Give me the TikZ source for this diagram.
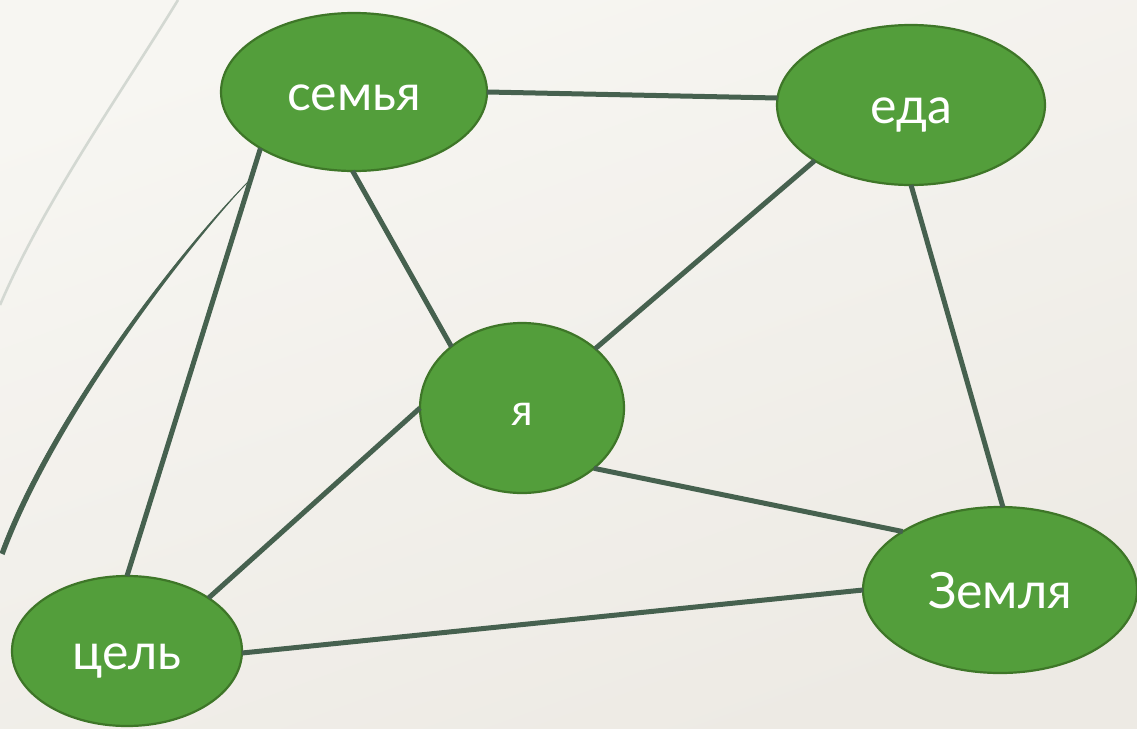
\documentclass[tikz,border=0pt]{standalone}
\usepackage{fontspec}
\setmainfont{Lato}
\usetikzlibrary{shapes.geometric,calc}
\definecolor{bgA}{HTML}{F7F6F2}
\definecolor{bgB}{HTML}{EDEAE4}
\definecolor{nodefill}{HTML}{539E3B}
\definecolor{nodeline}{HTML}{3E7628}
\definecolor{edgecol}{HTML}{46614F}
\definecolor{arccol}{HTML}{D3D8D2}
\tikzset{
  bubble/.style={ellipse, draw=nodeline, line width=2.2pt, fill=nodefill,
    inner sep=0pt, outer sep=0pt, text=white, text depth=0pt,
    font=\fontsize{50}{56}\selectfont},
}
\begin{document}
\begin{tikzpicture}[x=1pt,y=-1pt]
\useasboundingbox (0,0) rectangle (1137,728);
\shade[top color=bgA, bottom color=bgB, shading angle=20] (0,0) rectangle (1137,728);
% decorative arc
\draw[arccol, line width=2.6pt] (178,0) .. controls (120,95) and (45,200) .. (0,305);
% nodes
\node[bubble, minimum width=266pt, minimum height=158pt] (semya) at (354,92) {};
\node[bubble, minimum width=268pt, minimum height=160pt] (eda) at (911,105) {};
\node[bubble, minimum width=204pt, minimum height=170pt] (ya) at (522,408) {};
\node[bubble, minimum width=274pt, minimum height=166pt] (zemlya) at (1000,590) {};
\node[bubble, minimum width=230pt, minimum height=150pt] (tsel) at (127,651) {};
% labels
\node[text=white, font=\fontsize{50}{56}\selectfont, anchor=base] (tsemya) at ($(semya.center)+(0,18)$) {семья};
\node[text=white, font=\fontsize{50}{56}\selectfont, anchor=base] (teda) at ($(eda.center)+(0,18)$) {еда};
\node[text=white, font=\fontsize{44}{50}\selectfont, anchor=base] (tya) at ($(ya.center)+(0,17)$) {я};
\node[text=white, font=\fontsize{50}{56}\selectfont, anchor=base] (tzemlya) at ($(zemlya.center)+(0,18)$) {Земля};
\node[text=white, font=\fontsize{50}{56}\selectfont, anchor=base] (ttsel) at ($(tsel.center)+(0,18)$) {цель};
% connectors
\begin{scope}[edgecol, line width=5pt]
\draw (semya.-0.5) -- (eda.177.4);
\draw (semya.-91) -- (ya.139);
\draw (semya.-149) -- (tsel.90);
\draw (eda.-150) -- (ya.39);
\draw (eda.-90) -- (zemlya.88);
\draw (ya.-40) -- (zemlya.149);
\draw (ya.180) -- (tsel.33.7);
\draw (tsel.-1) -- (zemlya.180);
\end{scope}
% thin tapered curve
\coordinate (cstart) at ($(semya.-149)!0.072!(tsel.90)$);
\coordinate (cend) at (0,553);
\coordinate (cend2) at (4.5,555);
\fill[edgecol] (cstart) .. controls (175,255) and (48,422) .. (cend)
  -- (cend2) .. controls (53,424) and (178,257) .. (cstart) -- cycle;
\draw[edgecol, line width=0.8pt] (cstart) .. controls (175,255) and (48,422) .. (cend);
\end{tikzpicture}
\end{document}
